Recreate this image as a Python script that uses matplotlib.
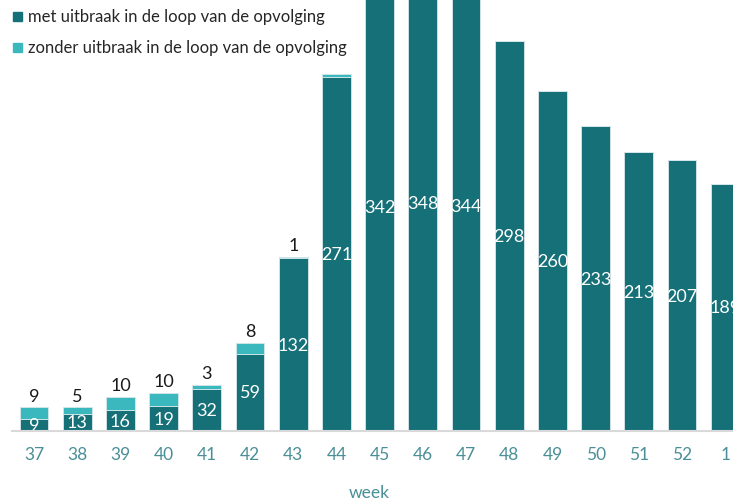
import matplotlib
matplotlib.use("Agg")
import matplotlib.pyplot as plt
from matplotlib.patches import Rectangle

weeks = ["37", "38", "39", "40", "41", "42", "43", "44", "45", "46", "47", "48", "49", "50", "51", "52", "1"]
met = [9, 13, 16, 19, 32, 59, 132, 271, 342, 348, 344, 298, 260, 233, 213, 207, 189]
zonder = [9, 5, 10, 10, 3, 8, 1, 2, 0, 0, 0, 0, 0, 0, 0, 0, 0]
zonder_labels = ["9", "5", "10", "10", "3", "8", "1", "", "", "", "", "", "", "", "", "", ""]

dark = "#157078"
light = "#3bb8bd"
tickc = "#4a8f97"
font = "Lato"

fig = plt.figure(figsize=(7.33, 5.02), dpi=100)
ax = fig.add_axes([12.4 / 733, 70 / 502, 1 - 12.4 / 733, 432 / 502])
x = list(range(len(weeks)))
w = 0.67
ax.bar(x, met, width=w, color=dark, edgecolor="#d8e8ea", linewidth=0.6, zorder=2)
ax.bar(x, zonder, width=w, bottom=met, color=light, edgecolor="#d8e8ea", linewidth=0.6, zorder=2)

for i in x:
    ax.text(i, met[i] / 2, str(met[i]), ha="center", va="center", color="white",
            fontsize=13, family=font, zorder=3)
    if zonder_labels[i]:
        ax.text(i, met[i] + zonder[i] + 3, zonder_labels[i], ha="center", va="bottom",
                color="#1a1a1a", fontsize=13, family=font, zorder=3)

ax.set_xlim(-0.5, 16.18)
ax.set_ylim(0, 330.3)
ax.set_xticks(x)
ax.set_xticklabels(weeks, family=font, fontsize=12.5, color=tickc)
ax.tick_params(axis="x", length=0, pad=11)
ax.set_yticks([])
for s in ["top", "right", "left"]:
    ax.spines[s].set_visible(False)
ax.spines["bottom"].set_color("#d9d9d9")
ax.spines["bottom"].set_linewidth(1.5)
ax.spines["bottom"].set_zorder(4)

fig.text(369 / 733, 1 - 493 / 502, "week", ha="center", va="center", color=tickc,
         fontsize=12.5, family=font)

# legend
for yy, col, lab in [(17, dark, "met uitbraak in de loop van de opvolging"),
                     (48, light, "zonder uitbraak in de loop van de opvolging")]:
    fig.patches.append(Rectangle((13 / 733, 1 - (yy + 4.5) / 502), 9 / 733, 9 / 502,
                                 transform=fig.transFigure, color=col))
    fig.text(28 / 733, 1 - yy / 502, lab, ha="left", va="center", color="#262626",
             fontsize=12, family=font)

fig.savefig("out.png", dpi=100)
